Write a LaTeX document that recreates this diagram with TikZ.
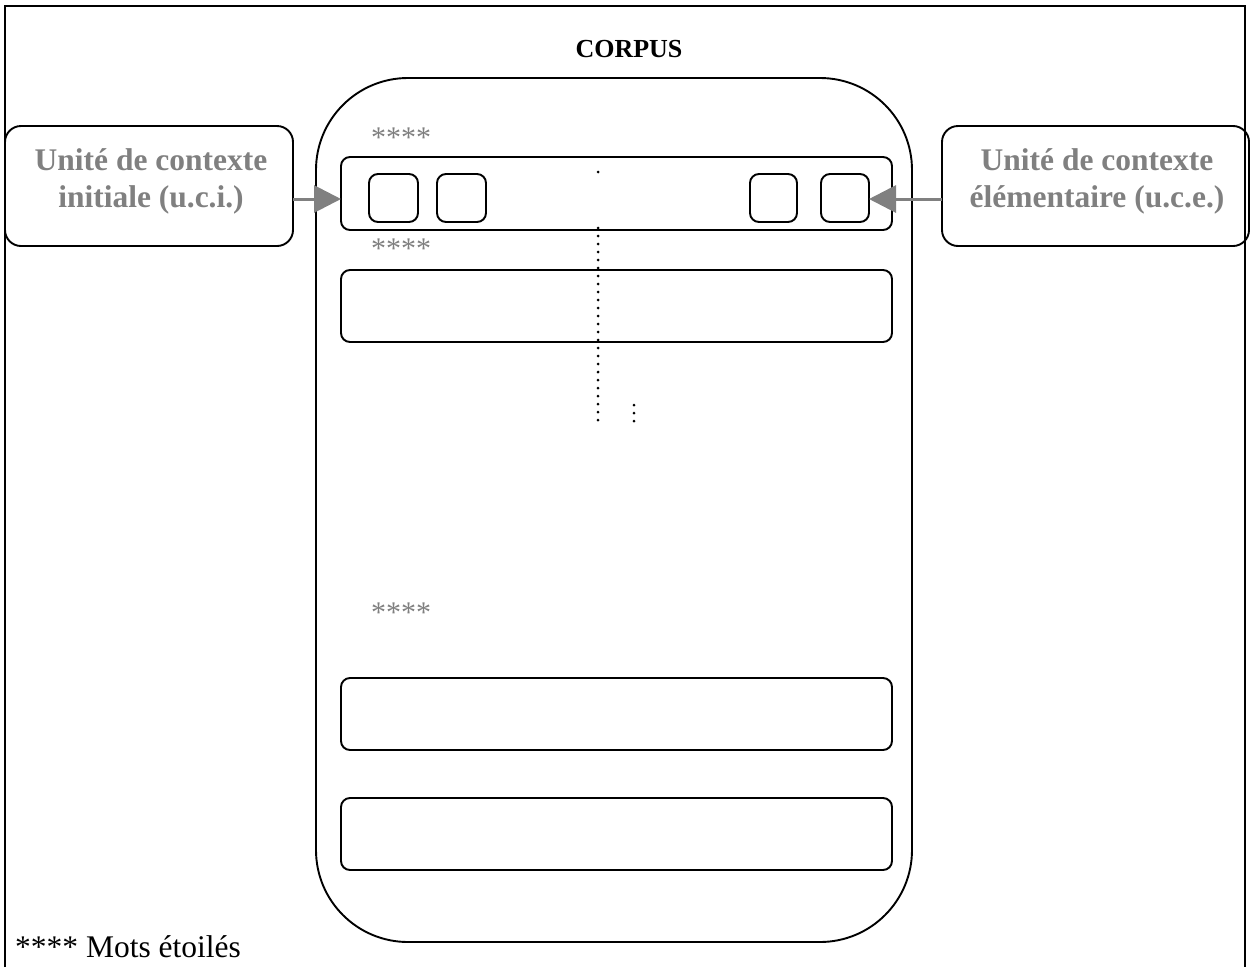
\documentclass[tikz,border=0pt]{standalone}
\usepackage{fontspec}
\setmainfont{Liberation Serif}
\usetikzlibrary{arrows.meta}
\definecolor{lblgray}{RGB}{128,128,128}
\begin{document}
\begin{tikzpicture}[x=1pt,y=-1pt,
  frameline/.style={line width=1.8pt},
  corpusbox/.style={draw,line width=1.9pt,rounded corners=92pt},
  rowbox/.style={draw,line width=1.9pt,rounded corners=9pt},
  wordbox/.style={draw,line width=1.9pt,rounded corners=9pt},
  sidebox/.style={draw,line width=1.9pt,rounded corners=16pt},
  sidetext/.style={text=lblgray,font=\fontsize{31.5}{37}\selectfont\bfseries,align=center,inner sep=0pt},
  stars/.style={text=lblgray,font=\fontsize{30}{30}\selectfont,inner sep=0pt,anchor=west},
  grayarrow/.style={draw=lblgray,line width=3pt,-{Triangle[length=27pt,width=27pt,fill=lblgray]}},
  dotline/.style={line width=3pt,line cap=round,dash pattern=on 0pt off 8pt}
]
\useasboundingbox (0,0) rectangle (1250,967);
% outer frame
\draw[frameline] (5,967) -- (5,6) -- (1245,6) -- (1245,967);
% title
\node[font=\fontsize{26}{30}\selectfont\bfseries,anchor=base,inner sep=0pt] (title) at (629,57) {CORPUS};
% corpus
\draw[corpusbox] (316,78) rectangle (912,942);
% rows
\draw[rowbox] (341,157) rectangle (892,230);
\draw[rowbox] (341,270) rectangle (892,342);
\draw[rowbox] (341,678) rectangle (892,750);
\draw[rowbox] (341,798) rectangle (892,870);
\coordinate (rowA) at (341,199);
% small word boxes
\draw[wordbox] (369,174) rectangle (418,222);
\draw[wordbox] (437,174) rectangle (486,222);
\draw[wordbox] (750,174) rectangle (797,222);
\draw[wordbox] (821,174) rectangle (869,222);
\coordinate (wordD) at (869,199);
% stars
\node[stars] (s1) at (371,138) {****};
\node[stars] (s2) at (371,249) {****};
\node[stars] (s3) at (371,613) {****};
% dotted lines
\coordinate (d0) at (598,172);
\coordinate (d1) at (598,228);
\coordinate (d2) at (598,421);
\coordinate (e1) at (634,405);
\coordinate (e2) at (634,421);
\fill (d0) circle (1.5pt);
\draw[dotline] (d1) -- (d2);
\draw[dotline] (e1) -- (e2);
% side boxes
\draw[sidebox] (5,126) rectangle (293,246);
\coordinate (uciE) at (293,199);
\node[sidetext] (uci) at (151,181) {Unité de contexte\\initiale (u.c.i.)};
\draw[sidebox] (942,126) rectangle (1249,246);
\coordinate (uceW) at (942,199);
\node[sidetext] (uce) at (1097,181) {Unité de contexte\\élémentaire (u.c.e.)};
% arrows
\draw[grayarrow] (uciE) -- (rowA);
\draw[grayarrow] (uceW) -- (wordD);
% legend
\node[font=\fontsize{31.5}{36}\selectfont,anchor=base west,inner sep=0pt] (legend) at (15,957) {**** Mots étoilés};
\end{tikzpicture}
\end{document}
